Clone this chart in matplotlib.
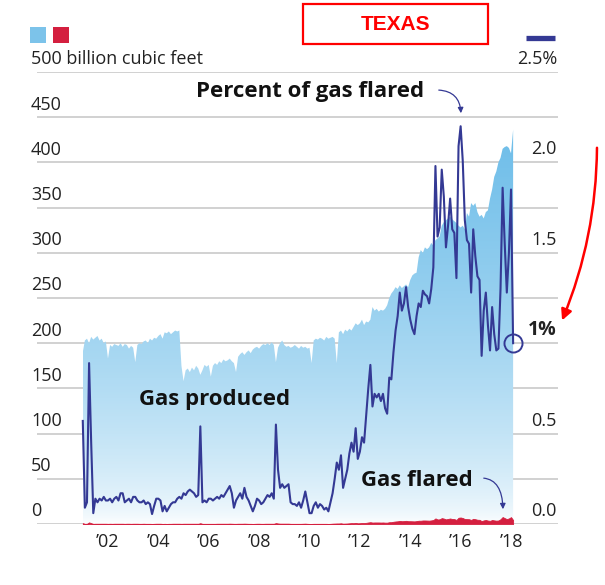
import numpy as np
import matplotlib
matplotlib.use('Agg')
import matplotlib.pyplot as plt
from matplotlib.patches import Rectangle, FancyArrowPatch
from matplotlib.lines import Line2D
from matplotlib.colors import LinearSegmentedColormap
from matplotlib.transforms import blended_transform_factory

plt.rcParams['font.family'] = ['Open Sans', 'DejaVu Sans']

# monthly values, Jan 2001 .. Feb 2018
# gas produced, billion cubic feet
produced = [
    190, 203, 205, 200, 207, 204, 206, 208, 203, 205, 200, 202,
    183, 198, 196, 199, 198, 197, 200, 196, 199, 198, 194, 197,
    195, 179, 198, 200, 199, 202, 203, 200, 205, 203, 206, 205,
    208, 210, 205, 212, 211, 213, 210, 212, 214, 213, 214, 175,
    158, 170, 172, 168, 173, 170, 175, 172, 165, 170, 176, 174,
    176, 163, 175, 178, 176, 180, 178, 182, 180, 181, 183, 180,
    178, 168, 185, 188, 190, 187, 190, 192, 189, 193, 195, 196,
    194, 197, 199, 198, 200, 198, 201, 198, 179, 195, 200, 203,
    198, 196, 197, 195, 196, 198, 196, 194, 197, 195, 196, 194,
    195, 178, 203, 205, 204, 206, 205, 203, 207, 205, 206, 207,
    205, 178, 212, 214, 210, 215, 213, 216, 214, 218, 222, 220,
    222, 226, 220, 224, 223, 226, 240, 236, 238, 235, 237, 236,
    238, 242, 250, 255, 258, 262, 260, 264, 261, 263, 265, 262,
    270, 275, 277, 278, 295, 303, 300, 306, 304, 306, 311, 308,
    314, 316, 318, 330, 334, 336, 338, 340, 337, 335, 333, 330,
    328, 330, 326, 344, 340, 355, 352, 355, 345, 340, 342, 338,
    345, 347, 360, 370, 384, 390, 400, 405, 415, 417, 418, 416,
    410, 436,
]

# gas flared, billion cubic feet
flared = [
    1.0, 0.2, 0.3, 1.8, 0.9, 0.2, 0.3, 0.3, 0.3, 0.3, 0.3, 0.3,
    0.2, 0.3, 0.2, 0.3, 0.3, 0.3, 0.3, 0.3, 0.2, 0.3, 0.3, 0.2,
    0.3, 0.3, 0.3, 0.2, 0.2, 0.3, 0.2, 0.2, 0.2, 0.1, 0.2, 0.3,
    0.3, 0.3, 0.1, 0.2, 0.1, 0.2, 0.2, 0.3, 0.3, 0.3, 0.3, 0.2,
    0.3, 0.3, 0.3, 0.3, 0.3, 0.3, 0.3, 0.3, 0.9, 0.2, 0.2, 0.2,
    0.2, 0.2, 0.2, 0.2, 0.3, 0.3, 0.3, 0.3, 0.3, 0.3, 0.4, 0.3,
    0.2, 0.2, 0.3, 0.3, 0.3, 0.4, 0.3, 0.2, 0.2, 0.1, 0.2, 0.3,
    0.3, 0.2, 0.2, 0.3, 0.3, 0.3, 0.3, 0.3, 1.0, 0.6, 0.4, 0.4,
    0.4, 0.4, 0.4, 0.2, 0.2, 0.2, 0.2, 0.2, 0.2, 0.3, 0.4, 0.2,
    0.1, 0.1, 0.2, 0.2, 0.2, 0.2, 0.2, 0.2, 0.2, 0.1, 0.2, 0.4,
    0.5, 0.6, 0.6, 0.8, 0.4, 0.5, 0.6, 0.8, 1.0, 0.9, 1.2, 0.8,
    0.9, 1.1, 1.0, 1.3, 1.7, 2.0, 1.6, 1.7, 1.7, 1.7, 1.6, 1.7,
    1.5, 1.5, 2.0, 2.0, 2.5, 2.8, 3.0, 3.4, 3.1, 3.2, 3.5, 3.1,
    3.1, 3.0, 2.9, 3.2, 3.6, 3.6, 3.9, 3.9, 3.8, 3.7, 4.0, 4.4,
    6.2, 5.0, 5.2, 6.5, 6.0, 5.1, 5.6, 6.1, 5.5, 5.4, 4.5, 6.9,
    7.2, 6.6, 5.5, 5.4, 5.3, 4.5, 5.7, 5.3, 4.7, 4.6, 3.2, 4.0,
    4.4, 3.8, 3.5, 4.4, 4.0, 3.7, 3.9, 5.3, 7.7, 6.5, 5.4, 6.2,
    7.6, 4.4,
]

# percent of gas flared
pct = [
    0.57, 0.09, 0.12, 0.89, 0.45, 0.06, 0.14, 0.12, 0.14, 0.13, 0.15, 0.13,
    0.13, 0.14, 0.12, 0.14, 0.15, 0.13, 0.17, 0.17, 0.12, 0.13, 0.14, 0.12,
    0.15, 0.15, 0.13, 0.12, 0.12, 0.13, 0.11, 0.12, 0.11, 0.055, 0.10, 0.14,
    0.14, 0.13, 0.07, 0.10, 0.07, 0.09, 0.11, 0.12, 0.12, 0.14, 0.15, 0.14,
    0.17, 0.16, 0.18, 0.19, 0.18, 0.17, 0.15, 0.16, 0.54, 0.12, 0.13, 0.12,
    0.14, 0.14, 0.13, 0.14, 0.15, 0.14, 0.16, 0.15, 0.17, 0.19, 0.21, 0.17,
    0.09, 0.13, 0.15, 0.17, 0.14, 0.20, 0.15, 0.13, 0.10, 0.07, 0.10, 0.14,
    0.13, 0.11, 0.12, 0.14, 0.16, 0.15, 0.17, 0.14, 0.55, 0.30, 0.20, 0.22,
    0.20, 0.21, 0.22, 0.12, 0.11, 0.11, 0.10, 0.12, 0.09, 0.13, 0.18, 0.12,
    0.06, 0.06, 0.10, 0.12, 0.09, 0.11, 0.10, 0.08, 0.09, 0.07, 0.12, 0.17,
    0.25, 0.34, 0.30, 0.38, 0.20, 0.25, 0.30, 0.39, 0.45, 0.40, 0.53, 0.36,
    0.40, 0.48, 0.45, 0.60, 0.75, 0.88, 0.65, 0.72, 0.70, 0.72, 0.68, 0.72,
    0.64, 0.61, 0.81, 0.80, 0.95, 1.07, 1.15, 1.28, 1.18, 1.22, 1.31, 1.20,
    1.13, 1.08, 1.05, 1.15, 1.22, 1.20, 1.29, 1.27, 1.26, 1.22, 1.30, 1.42,
    1.98, 1.59, 1.64, 1.96, 1.81, 1.53, 1.65, 1.80, 1.63, 1.61, 1.36, 2.09,
    2.20, 2.01, 1.68, 1.57, 1.55, 1.28, 1.63, 1.48, 1.37, 1.35, 0.93, 1.18,
    1.28, 1.10, 0.96, 1.20, 1.05, 0.96, 0.97, 1.30, 1.86, 1.55, 1.28, 1.50,
    1.85, 1.00,
]

left_ticks = [0, 50, 100, 150, 200, 250, 300, 350, 400, 450, 500]
left_labels = ['0', '50', '100', '150', '200', '250', '300', '350', '400', '450',
               '500 billion cubic feet']
right_ticks = [0.0, 0.5, 1.0, 1.5, 2.0, 2.5]
right_labels = ['0.0', '0.5', '1%', '1.5', '2.0', '2.5%']
year_ticks = [2002, 2004, 2006, 2008, 2010, 2012, 2014, 2016, 2018]
year_labels = ['\u2019%02d' % (y % 100) for y in year_ticks]

dates = 2001 + np.arange(len(produced)) / 12.0

W, H = 605, 585
fig = plt.figure(figsize=(W / 100, H / 100), dpi=100)

def fx(px):
    return px / W

def fy(py):
    return 1 - py / H

# axes: gridlines run from x=37 to 558 px, values 0..500 from y=524 to 72 px
ax = fig.add_axes([fx(37), fy(524), (558 - 37) / W, (524 - 72) / H])
pxyr = 25.2
x0 = 2001 - (82.8 - 37) / pxyr
x1 = 2018 + (558 - 511) / pxyr
ax.set_xlim(x0, x1)
ax.set_ylim(0, 500)
ax.axis('off')

for v in left_ticks:
    ax.axhline(v, color='#c9c9c9', lw=1.2, zorder=0)

# gas produced: vertical gradient clipped to the area
poly = ax.fill_between(dates, produced, 0, color='none', lw=0)
cmap = LinearSegmentedColormap.from_list('g', ['#ffffff', '#6dbde9'])
grad = (np.linspace(0, 1, 256) ** 0.6)[:, None]
im = ax.imshow(grad, extent=[dates[0], dates[-1], 0, 440], origin='lower',
               aspect='auto', cmap=cmap, vmin=0, vmax=1, zorder=1)
im.set_clip_path(poly.get_paths()[0], transform=ax.transData)
ax.set_xlim(x0, x1)
ax.set_ylim(0, 500)

ax.fill_between(dates, flared, 0, color='#d41f3f', lw=0.6, edgecolor='#d41f3f', zorder=2)

ax2 = ax.twinx()
ax2.set_xlim(x0, x1)
ax2.set_ylim(0, 2.5)
ax2.axis('off')
line_col = '#343994'
ax2.plot(dates, pct, color=line_col, lw=1.5, zorder=3)
ax2.plot([dates[-1]], [pct[-1]], 'o', ms=13, mfc='none', mec=line_col, mew=1.4)

# tick labels
tick_kw = dict(fontsize=13, color='#222222')
tr_left = blended_transform_factory(fig.transFigure, ax.transData)
tr_right = blended_transform_factory(fig.transFigure, ax2.transData)
for v, lab in zip(left_ticks, left_labels):
    ax.text(fx(31), v + 14, lab, transform=tr_left, ha='left', va='center', **tick_kw)
for v, lab in zip(right_ticks, right_labels):
    kw = dict(tick_kw)
    if lab == '1%':
        kw['fontweight'] = 'bold'
        kw['fontsize'] = 14
    ax2.text(fx(557), v + 0.072, lab, transform=tr_right, ha='right', va='center', **kw)
for yv, lab in zip(year_ticks, year_labels):
    ax.text(yv, -20, lab, ha='center', va='center', clip_on=False, **tick_kw)

# legend swatches
fig.patches.append(Rectangle((fx(30), fy(43)), 16 / W, 16 / H, transform=fig.transFigure,
                             facecolor='#7cc3ea', edgecolor='none'))
fig.patches.append(Rectangle((fx(53), fy(43)), 16 / W, 16 / H, transform=fig.transFigure,
                             facecolor='#d41f3f', edgecolor='none'))
fig.lines.append(Line2D([fx(526), fx(555)], [fy(38), fy(38)], transform=fig.transFigure,
                        color=line_col, lw=3.8, solid_capstyle='butt'))

# title box
fig.patches.append(Rectangle((fx(303), fy(44)), 185 / W, 40 / H, transform=fig.transFigure,
                             facecolor='white', edgecolor='#ff0000', lw=1.6))
fig.text(fx(395.5), fy(24), 'TEXAS', color='#ff0000', fontsize=15, fontweight='bold',
         family='Liberation Sans', ha='center', va='center')

# annotations
lab_kw = dict(fontsize=16, fontweight='bold', color='#111111', ha='center', va='center')
fig.text(fx(310), fy(92), 'Percent of gas flared', **lab_kw)
fig.text(fx(215), fy(400), 'Gas produced', **lab_kw)
fig.text(fx(417), fy(481), 'Gas flared', **lab_kw)

arrow_kw = dict(arrowstyle='-|>', color=line_col, lw=0.9, mutation_scale=8)
fig.add_artist(FancyArrowPatch(
    (fx(436), fy(90)), (fx(461), fy(116)), transform=fig.transFigure,
    connectionstyle='angle3,angleA=0,angleB=90', **arrow_kw))
fig.add_artist(FancyArrowPatch(
    (fx(481), fy(478)), (fx(503), fy(512)), transform=fig.transFigure,
    connectionstyle='angle3,angleA=0,angleB=90', **arrow_kw))
fig.add_artist(FancyArrowPatch(
    (fx(597), fy(145)), (fx(561), fy(323)), transform=fig.transFigure,
    connectionstyle='arc3,rad=-0.1', arrowstyle='-|>', color='#ff0000', lw=1.8,
    mutation_scale=16))

fig.savefig('out.png', dpi=100)
